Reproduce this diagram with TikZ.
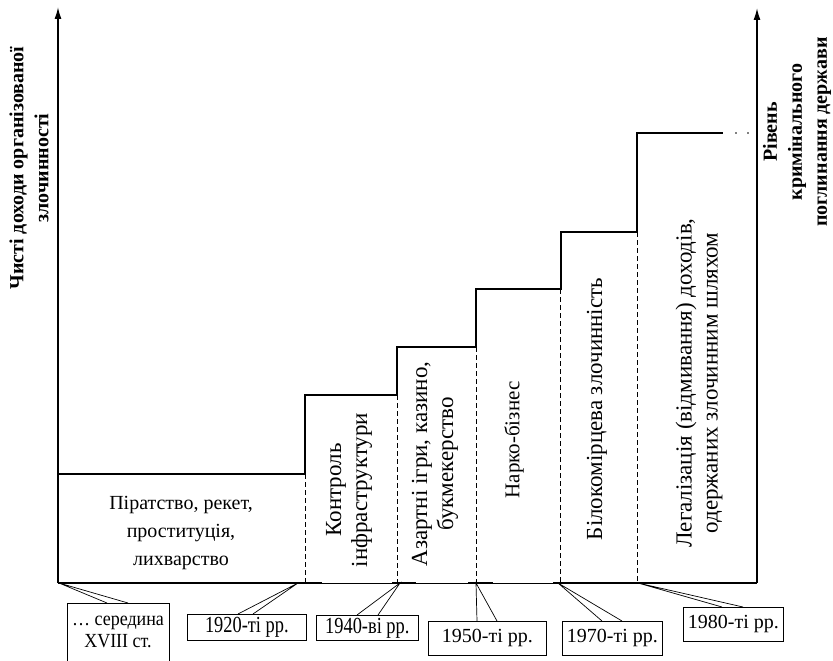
\documentclass[tikz,border=0pt]{standalone}
\usepackage{fontspec}
\setmainfont{Liberation Serif}
\newfontfamily\narrowA[FakeStretch=0.8]{Liberation Serif}
\newfontfamily\narrowB[FakeStretch=0.9]{Liberation Serif}
\usetikzlibrary{arrows.meta,calc}
\tikzset{
  axisline/.style={line width=1.5pt,-{Latex[length=12pt,width=7pt]}},
  stepline/.style={line width=2.2pt},
  thinbase/.style={line width=0.8pt},
  thickbase/.style={line width=2.2pt},
  divider/.style={line width=0.8pt,dash pattern=on 5pt off 3pt},
  lbl/.style={font=\fontsize{20}{28}\selectfont,align=center,inner sep=0pt},
  vlbl/.style={font=\fontsize{23}{26}\selectfont,align=center,inner sep=0pt,rotate=90},
  axlbl/.style={font=\fontsize{20}{25}\selectfont\bfseries,align=center,inner sep=0pt,rotate=90},
  callbox/.style={draw,line width=0.7pt,fill=white,font=\fontsize{20}{22}\selectfont,align=center,inner sep=0pt,anchor=north west},
  smallcall/.style={callbox,font=\narrowA\fontsize{23}{24}\selectfont},
  wedge/.style={line width=0.7pt}
}
\begin{document}
\begin{tikzpicture}[x=1pt,y=-1pt]
\useasboundingbox (0,0) rectangle (833,661);
% axes
\coordinate (o) at (58,583);
\coordinate (ltop) at (58,7);
\coordinate (r0) at (757,583);
\coordinate (rtop) at (757,8);
\draw[axisline] (o) -- (ltop);
\draw[axisline] (r0) -- (rtop);
% baseline
\draw[thinbase] (o) -- (r0);
\draw[thickbase] (58,583) -- (322,583);
\draw[thickbase] (392,583) -- (416,583);
\draw[thickbase] (468,583) -- (493,583);
\draw[thickbase] (553,583) -- (757,583);
% step function
\draw[stepline] (58,474) -- (305,474) -- (305,395) -- (397,395) -- (397,347)
  -- (476,347) -- (476,289) -- (561,289) -- (561,232) -- (637,232) -- (637,133) -- (723,133);
\fill (736,133) circle (0.9);
\fill (748,133) circle (0.9);
% dividers
\draw[divider] (305,474) -- (305,583);
\draw[divider] (397,395) -- (397,583);
\draw[divider] (476,347) -- (476,583);
\draw[divider] (560,289) -- (560,583);
\draw[divider] (637,232) -- (637,583);
% axis labels
\node[axlbl] (yl) at (29,168) {Чисті доходи організованої\\злочинності};
\node[axlbl] (yr) at (797,132) {Рівень\\кримінального\\поглинання держави};
% region labels
\node[lbl] (t1) at (181,533) {Піратство, рекет,\\проституція,\\лихварство};
\node[vlbl] (t2) at (349,490) {Контроль\\інфраструктури};
\node[vlbl] (t3) at (435,464) {Азартні ігри, казино,\\букмекерство};
\node[vlbl,font=\fontsize{21}{26}\selectfont] (t4) at (514,440) {Нарко-бізнес};
\node[vlbl] (t5) at (597,409) {Білокомірцева злочинність};
\node[vlbl] (t6) at (699,383) {Легалізація (відмивання) доходів,\\одержаних злочинним шляхом};
% callouts
\node[callbox,minimum width=102pt,minimum height=66pt] (c1) at (67,603) {};
\node[font=\narrowB\fontsize{20}{22}\selectfont,align=center,inner sep=0pt] (c1t) at (118,632) {… середина\\XVIII ст.};
\node[smallcall,minimum width=119pt,minimum height=26pt] (c2) at (187,614) {1920-ті рр.};
\node[smallcall,minimum width=102pt,minimum height=25pt] (c3) at (316,615) {1940-ві рр.};
\node[callbox,minimum width=118pt,minimum height=34pt] (c4) at (428,621) {1950-ті рр.};
\node[callbox,minimum width=100pt,minimum height=34pt] (c5) at (562,621) {1970-ті рр.};
\node[callbox,minimum width=100pt,minimum height=34pt] (c6) at (683,607) {1980-ті рр.};
\coordinate (a1) at (59,583);
\coordinate (a2) at (298,583);
\coordinate (a3) at (400,583);
\coordinate (a4) at (476,583);
\coordinate (a5) at (558,583);
\coordinate (a6) at (638,583);
\draw[wedge] ([xshift=40pt]c1.north west) -- (a1) -- ([xshift=61pt]c1.north west);
\draw[wedge] ([xshift=51pt]c2.north west) -- (a2) -- ([xshift=66pt]c2.north west);
\draw[wedge] ([xshift=41pt]c3.north west) -- (a3) -- ([xshift=62pt]c3.north west);
\draw[wedge] ([xshift=49pt]c4.north west) -- (a4) -- ([xshift=69pt]c4.north west);
\draw[wedge] ([xshift=40pt]c5.north west) -- (a5) -- ([xshift=60pt]c5.north west);
\draw[wedge] ([xshift=39pt]c6.north west) -- (a6) -- ([xshift=60pt]c6.north west);
\end{tikzpicture}
\end{document}
